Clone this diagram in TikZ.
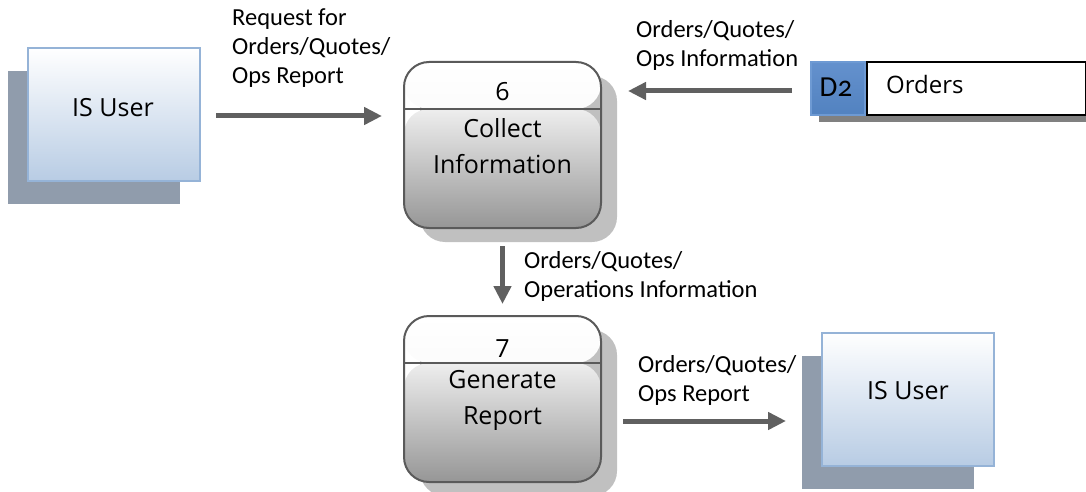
\documentclass[tikz,border=0pt]{standalone}
\usepackage{fontspec}
\setmainfont{Carlito}
\newfontfamily\boxfont{Open Sans}
\newfontfamily\storefont[Numbers=OldStyle]{Carlito}
\usetikzlibrary{arrows.meta,shadows}

\definecolor{flowgray}{RGB}{96,96,96}
\definecolor{procborder}{RGB}{90,90,90}
\definecolor{procshadow}{RGB}{192,192,192}
\definecolor{proctop}{RGB}{242,242,242}
\definecolor{procmid}{RGB}{238,238,238}
\definecolor{procbot}{RGB}{150,150,150}
\definecolor{entborder}{RGB}{149,179,215}
\definecolor{entbot}{RGB}{184,204,228}
\definecolor{entshadow}{RGB}{144,156,172}
\definecolor{storeblue}{RGB}{82,130,192}
\definecolor{storebluetop}{RGB}{100,145,205}
\definecolor{storeedge}{RGB}{110,154,211}
\definecolor{storeshadow}{RGB}{128,128,128}

\tikzset{
  flow/.style={draw=flowgray, line width=5pt,
    -{Triangle[length=18pt,width=17pt]}},
  flowlabel/.style={font=\fontsize{24.5}{29}\selectfont, align=left, anchor=north west, inner sep=0pt},
  entity/.style={rectangle, minimum width=172pt, minimum height=133pt,
    draw=entborder, line width=2pt, top color=white, bottom color=entbot,
    drop shadow={shadow xshift=-20pt, shadow yshift=-23pt, fill=entshadow, opacity=1}},
  entitytext/.style={font=\boxfont\fontsize{25}{30}\selectfont, inner sep=0pt},
  process/.style={rectangle, rounded corners=25pt, minimum width=197pt, minimum height=166pt,
    draw=procborder, line width=2pt,
    drop shadow={shadow xshift=16pt, shadow yshift=-14pt, fill=procshadow, opacity=1},
    path picture={
      \shade[top color=white, bottom color=proctop]
        (path picture bounding box.north west) rectangle
        ([yshift=-47pt]path picture bounding box.north east);
      \shade[top color=procmid, bottom color=procbot]
        ([yshift=-47pt]path picture bounding box.north west) rectangle
        (path picture bounding box.south east);
      \draw[procborder, line width=1.5pt]
        ([yshift=-47pt]path picture bounding box.north west) --
        ([yshift=-47pt]path picture bounding box.north east);
    }},
  proctext/.style={font=\boxfont\fontsize{25}{36}\selectfont, align=center, inner sep=0pt},
}

\begin{document}
\begin{tikzpicture}[x=1pt, y=-1pt]
  \useasboundingbox (0,0) rectangle (1086,492);

  % external entities
  \node[entity] (user1) at (114,114.5) {};
  \node[entitytext] (user1txt) at (113,108) {IS User};
  \node[entity] (user2) at (908,399) {};
  \node[entitytext] (user2txt) at (908,391) {IS User};

  % processes
  \node[process] (p6) at (502.5,145) {};
  \node[proctext] (p6num) at (502.5,92) {6};
  \node[proctext] (p6txt) at (502.5,146) {Collect\\Information};

  \node[process] (p7) at (502.5,399) {};
  \node[proctext] (p7num) at (502.5,349) {7};
  \node[proctext] (p7txt) at (502.5,400) {Generate\\Report};

  % data store D2
  \fill[storeshadow] (819,69) rectangle (1095,122);
  \node[rectangle, minimum width=54pt, minimum height=53pt, draw=storeedge, line width=2pt,
        top color=storebluetop, bottom color=storeblue, inner sep=0pt] (d2id) at (838,88.5) {};
  \node[inner sep=0pt, font=\storefont\fontsize{29}{30}\selectfont] (d2idtxt) at (836,87) {D2};
  \node[rectangle, minimum width=219pt, minimum height=53pt, draw=black, line width=1.5pt,
        fill=white, anchor=west, inner sep=0pt] (d2) at (d2id.east) {};
  \node[anchor=west, inner sep=0pt, font=\boxfont\fontsize{24}{30}\selectfont] (d2name) at (886,85) {Orders};

  % data flows
  \draw[flow, shorten <=15pt, shorten >=21pt] ([yshift=-1.5pt]user1.east) -- ([yshift=-1.5pt]user1.east -| p6.west);
  \draw[flow, shorten <=18pt, shorten >=26pt] ([yshift=-2.5pt]d2id.west) -- ([yshift=-2.5pt]d2id.west -| p6.east);
  \draw[flow, shorten <=17pt, shorten >=11pt] (p6.south) -- (p7.north);
  \draw[flow, shorten <=21pt, shorten >=35pt] ([yshift=-22pt]p7.east) -- ([yshift=-22pt]p7.east -| user2.west);

  % flow labels
  \node[flowlabel] (l1) at (232,9) {Request for\\Orders/Quotes/\\Ops Report};
  \node[flowlabel] (l2) at (636,20) {Orders/Quotes/\\Ops Information};
  \node[flowlabel] (l3) at (524,251) {Orders/Quotes/\\Operations Information};
  \node[flowlabel] (l4) at (638,355) {Orders/Quotes/\\Ops Report};
\end{tikzpicture}
\end{document}
